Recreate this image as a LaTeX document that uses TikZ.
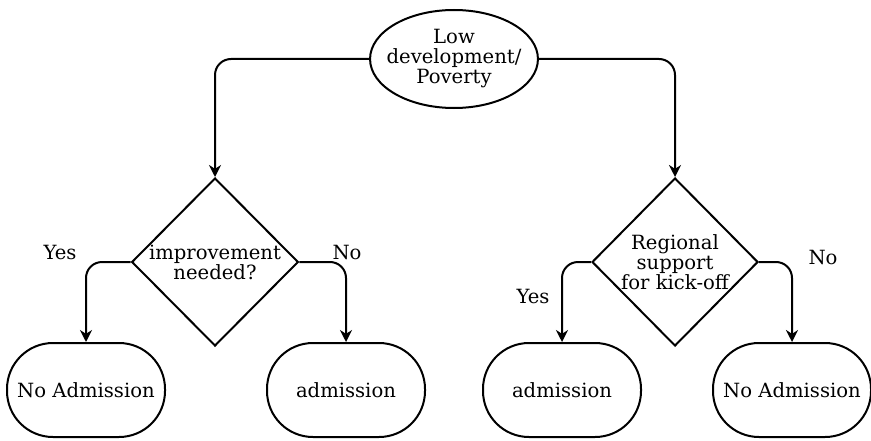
\documentclass[tikz,border=0pt]{standalone}
\usepackage{fontspec}
\setmainfont{DejaVu Serif}
\usetikzlibrary{shapes.geometric, positioning, arrows.meta}

\begin{document}
\begin{tikzpicture}[x=0.5pt, y=0.5pt,
    every node/.style={font=\fontsize{9.8}{10}\selectfont, align=center},
    start/.style={draw, ellipse, line width=1pt, inner xsep=-4pt, inner ysep=0pt,
        minimum width=81pt, minimum height=49pt},
    decision/.style={draw, diamond, line width=1pt, inner sep=0pt,
        minimum width=83pt, minimum height=84pt},
    outcome/.style={draw, rectangle, rounded corners=23pt, line width=1pt,
        minimum width=79pt, minimum height=47pt},
    link/.style={line width=1pt, rounded corners=8pt, -{Stealth[length=6pt, width=6pt]}},
    ans/.style={inner sep=1pt}]
    \useasboundingbox (0,0) rectangle (871,440);

    % Ausgangslage
    \node[start] (root) at (454,381) {Low\\development/\\Poverty};

    % Linker Zweig
    \node[decision] (need) at (215,178) {improvement\\needed?};
    \node[outcome] (noadmL) at (86,50) {No Admission};
    \node[outcome] (admL) at (346,50) {admission};
    \node[ans] (yesL) at (60,188) {Yes};
    \node[ans] (noL) at (347,188) {No};

    % Rechter Zweig
    \node[decision] (support) at (675,178) {Regional\\support\\for kick-off};
    \node[outcome] (admR) at (562,50) {admission};
    \node[outcome] (noadmR) at (792,50) {No Admission};
    \node[ans] (yesR) at (533,144) {Yes};
    \node[ans] (noR) at (823,183) {No};

    % Verbindungen
    \draw[link] (root.west) -| (need.north);
    \draw[link] (root.east) -| (support.north);
    \draw[link] (need.west) -| (noadmL.north);
    \draw[link] (need.east) -| (admL.north);
    \draw[link] (support.west) -| (admR.north);
    \draw[link] (support.east) -| (noadmR.north);
\end{tikzpicture}
\end{document}
